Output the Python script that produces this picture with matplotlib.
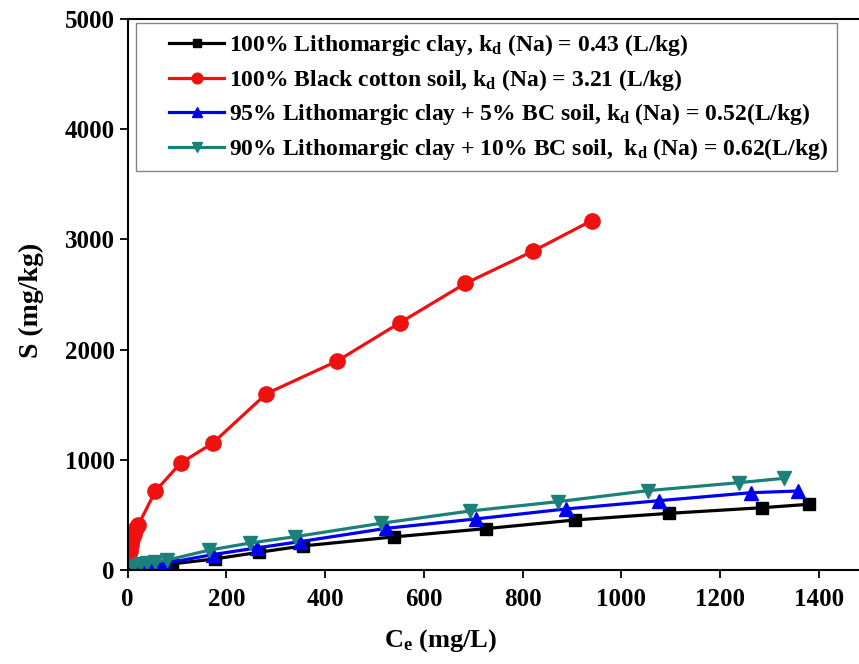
import numpy as np
import matplotlib
matplotlib.use("Agg")
import matplotlib.pyplot as plt
from matplotlib.legend_handler import HandlerLine2D

plt.rcParams['font.family'] = ['Liberation Serif', 'DejaVu Serif']
plt.rcParams['font.weight'] = 'bold'
plt.rcParams['mathtext.fontset'] = 'custom'
plt.rcParams['mathtext.rm'] = 'Liberation Serif:bold'
plt.rcParams['mathtext.it'] = 'Liberation Serif:bold'
plt.rcParams['mathtext.bf'] = 'Liberation Serif:bold'

# 100% Lithomargic clay
litho_x = [15, 30, 45, 60, 90, 176, 265, 355, 539, 725, 907, 1097, 1285, 1380]
litho_y = [10, 20, 30, 40, 55, 100, 160, 218, 300, 375, 454, 514, 565, 596]

# 100% Black cotton soil
bc_x = [3, 5, 7, 9, 12, 17, 21, 56, 107, 172, 281, 424, 552, 684, 822, 940]
bc_y = [100, 170, 230, 280, 330, 380, 405, 715, 970, 1150, 1600, 1895, 2245, 2600, 2895, 3170]

# 95% Lithomargic + 5% BC
mix5_x = [10, 25, 40, 55, 75, 173, 261, 349, 524, 705, 888, 1077, 1262, 1359]
mix5_y = [5, 15, 30, 45, 60, 140, 200, 257, 378, 463, 554, 629, 701, 717]

# 90% Lithomargic + 10% BC
mix10_x = [10, 25, 40, 55, 80, 165, 248, 339, 514, 693, 872, 1054, 1238, 1330]
mix10_y = [40, 50, 60, 70, 90, 180, 245, 302, 424, 535, 620, 720, 792, 832]

labels = [
    "100% Lithomargic clay, k$_{d}$ (Na) = 0.43 (L/kg)",
    "100% Black cotton soil, k$_{d}$ (Na) = 3.21 (L/kg)",
    "95% Lithomargic clay + 5% BC soil, k$_{d}$ (Na) = 0.52(L/kg)",
    "90% Lithomargic clay + 10% BC soil,  k$_{d}$ (Na) = 0.62(L/kg)",
]


# legend handle pushed to the right, leaves empty space at the left of the box
class ShiftedLine(HandlerLine2D):
    def __init__(self, shift, **kw):
        super().__init__(**kw)
        self.shift = shift

    def create_artists(self, legend, orig_handle, xdescent, ydescent,
                       width, height, fontsize, trans):
        return super().create_artists(legend, orig_handle, xdescent - self.shift,
                                      ydescent, width - self.shift, height,
                                      fontsize, trans)


fig = plt.figure(figsize=(8.59, 6.64), dpi=100)
ax = fig.add_axes([0.1487, 0.1416, 0.8618, 0.8298])

ax.plot(litho_x, litho_y, color='black', lw=2.3, marker='s', ms=8.5, label=labels[0])
ax.plot(bc_x, bc_y, color='#f01010', lw=2.3, marker='o', ms=11, label=labels[1])
ax.plot(mix5_x, mix5_y, color='#0000ee', lw=2.3, marker='^', ms=10, label=labels[2])
ax.plot(mix10_x, mix10_y, color='#1b807a', lw=2.3, marker='v', ms=10, label=labels[3])

ax.set_xlim(0, 1500)
ax.set_ylim(0, 5000)
ax.set_xticks(np.arange(0, 1401, 200))
ax.set_yticks(np.arange(0, 5001, 1000))
ax.tick_params(direction='out', length=6, width=1.3, labelsize=18)
ax.tick_params(axis='x', pad=7)
for sp in ax.spines.values():
    sp.set_linewidth(1.5)

ax.set_xlabel("C$_{e}$ (mg/L)", fontsize=19, fontweight='bold')
ax.set_ylabel("S (mg/kg)", fontsize=20, fontweight='bold')
ax.xaxis.set_label_coords(0.423, -0.103)
ax.yaxis.set_label_coords(-0.113, 0.49)

fs = 17
shift_pt = 24 / 100 * 72
handler = ShiftedLine(shift_pt)
leg = ax.legend(loc='upper left', bbox_to_anchor=(8 / 740.3, 1 - 4 / 551),
                borderaxespad=0, fontsize=fs, frameon=True, fancybox=False,
                edgecolor='#666666', markerscale=0.7, handlelength=3.35,
                handletextpad=0.2, labelspacing=0.36,
                handler_map={l: handler for l in ax.get_lines()})
leg.get_frame().set_linewidth(1.0)

fig.savefig("out.png", dpi=100)
